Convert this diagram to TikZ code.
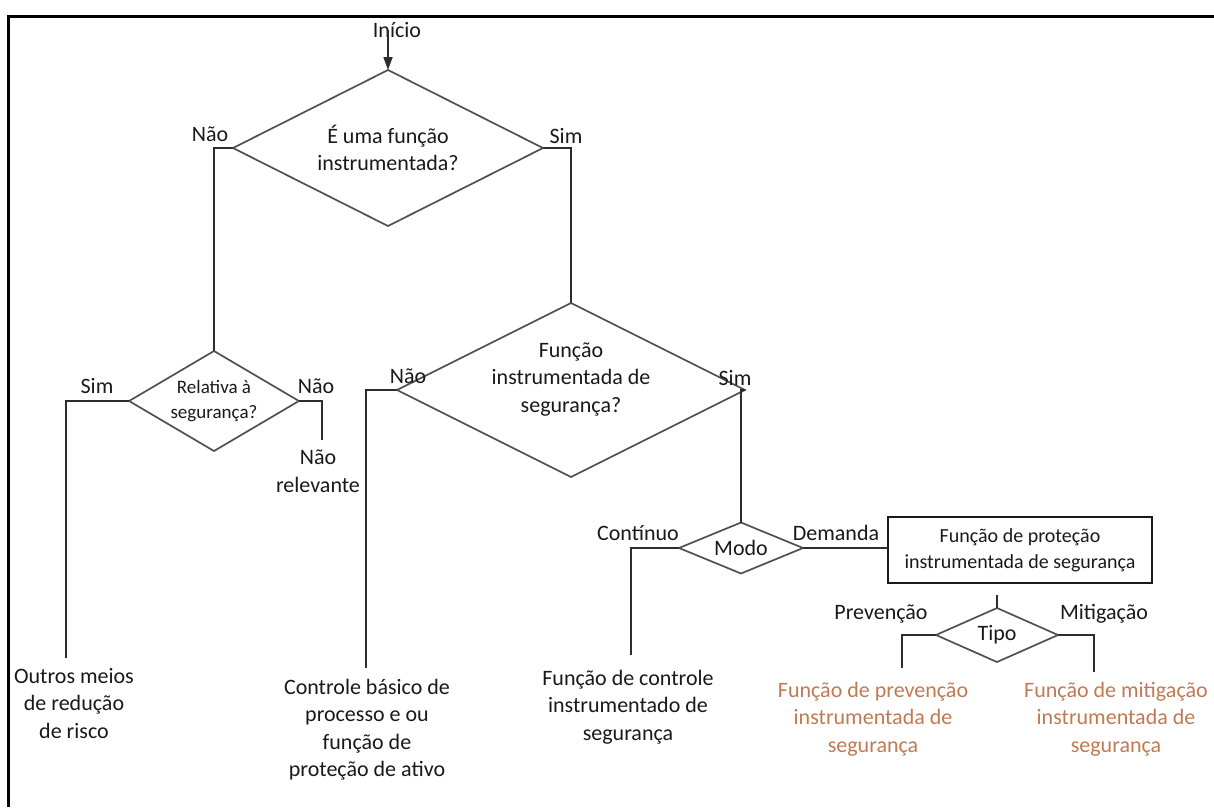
\documentclass[tikz,border=0pt]{standalone}
\usepackage{fontspec}
\setmainfont{Carlito}
\usetikzlibrary{shapes.geometric,arrows.meta}
\definecolor{ink}{RGB}{25,25,25}
\definecolor{edge}{RGB}{80,80,80}
\definecolor{wirec}{RGB}{45,45,45}
\definecolor{rust}{RGB}{192,122,82}
\begin{document}
\begin{tikzpicture}[x=1pt,y=-1pt,
  every node/.style={inner sep=0pt,outer sep=0pt},
  txt/.style={font=\fontsize{22}{27.5}\selectfont,align=center,text=ink},
  smalltxt/.style={font=\fontsize{19}{25}\selectfont,align=center,text=ink},
  boxtxt/.style={font=\fontsize{20}{26}\selectfont,align=center,text=ink},
  lbl/.style={txt,anchor=base},
  outcome/.style={txt,anchor=north},
  decision/.style={diamond,draw=edge,line width=1.7pt,aspect=2},
  procbox/.style={rectangle,draw=ink,line width=2pt},
  wire/.style={draw=wirec,line width=1.7pt},
  arrowwire/.style={wire,-{Triangle[length=13pt,width=9pt]}}
]
\useasboundingbox (0,0) rectangle (1214,807);

% page frame (top and left rules)
\draw[line width=3pt] (8,807) -- (8,16) -- (1214,16);

% decision nodes
\node[decision,txt,minimum width=310pt,minimum height=156pt] (d1) at (388,148)
  {É uma função\\instrumentada?};
\node[decision,smalltxt,minimum width=150pt,minimum height=100pt] (d2) at (214,401)
  {Relativa à\\segurança?};
\node[decision,txt,minimum width=278pt,minimum height=160pt,text depth=25pt] (d3) at (571,390)
  {Função\\instrumentada de\\segurança?};
\node[decision,txt,minimum width=124pt,minimum height=51pt] (modo) at (741,548) {Modo};
\node[decision,txt,minimum width=122pt,minimum height=54pt] (tipo) at (997,635) {Tipo};

% protection function box
\node[procbox,boxtxt,minimum width=264pt,minimum height=66pt] (prot) at (1020,550)
  {Função de proteção\\instrumentada de segurança};

% branch labels
\node[lbl] (inicio) at (397,37) {Início};
\node[lbl] (nao1) at (210,141) {Não};
\node[lbl] (sim1) at (566,143) {Sim};
\node[lbl] (sim2) at (97,393) {Sim};
\node[lbl] (nao2) at (316,393) {Não};
\node[lbl] (nao3) at (408,383) {Não};
\node[lbl] (sim3) at (735,385) {Sim};
\node[lbl] (cont) at (638,540) {Contínuo};
\node[lbl] (dem) at (836,540) {Demanda};
\node[lbl] (prevl) at (881,619) {Prevenção};
\node[lbl] (mitl) at (1104,619) {Mitigação};

% outcomes
\node[outcome] (outros) at (74,668) {Outros meios\\de redução\\de risco};
\node[outcome] (naorel) at (318,450) {Não\\relevante};
\node[outcome] (bpcs) at (367,679) {Controle básico de\\processo e ou\\função de\\proteção de ativo};
\node[outcome] (fcis) at (628,670) {Função de controle\\instrumentado de\\segurança};
\node[outcome,text=rust] (fprev) at (873,682) {Função de prevenção\\instrumentada de\\segurança};
\node[outcome,text=rust] (fmit) at (1116,682) {Função de mitigação\\instrumentada de\\segurança};

% free ends of the branch lines
\coordinate (eOutros) at (66,658);
\coordinate (eNaoRel) at (322,440);
\coordinate (eBpcs) at (366,668);
\coordinate (eFcis) at (631,655);
\coordinate (eTick) at (997,595);
\coordinate (ePrev) at (902,668);
\coordinate (eMit) at (1094,672);

% connectors
\draw[arrowwire] (d1.north |- inicio.center) -- (d1.north);
\draw[wire] (d1.west) -| (d2.north);
\draw[wire] (d1.east) -| (d3.north);
\draw[wire] (d2.west) -| (eOutros);
\draw[wire] (d2.east) -| (eNaoRel);
\draw[wire] (d3.west) -| (eBpcs);
\draw[wire] (d3.east) -| (modo.north);
\draw[wire] (modo.west) -| (eFcis);
\draw[wire] (modo.east) -- (modo.east -| prot.west);
\draw[wire] (eTick) -- (tipo.north);
\draw[wire] (tipo.west) -| (ePrev);
\draw[wire] (tipo.east) -| (eMit);
\end{tikzpicture}
\end{document}
